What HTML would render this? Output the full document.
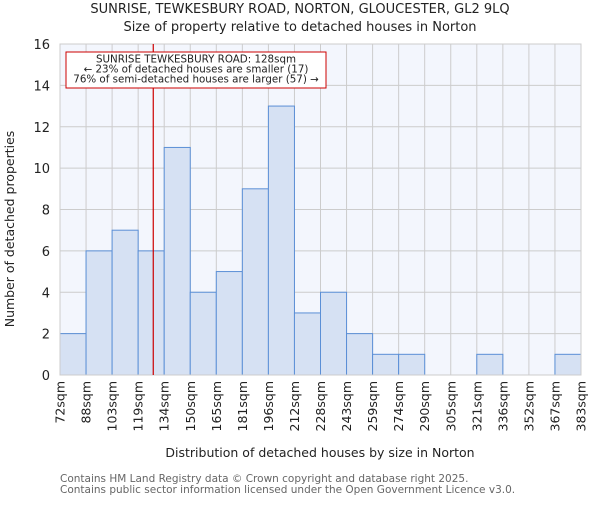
<!DOCTYPE html>
<html><head><meta charset="utf-8"><style>
body{margin:0;background:#fff;}
svg text{font-family:"DejaVu Sans","Liberation Sans",sans-serif;}
</style></head><body>
<svg id="chart" width="600" height="500" xmlns="http://www.w3.org/2000/svg">
<text x="300" y="13" text-anchor="middle" font-size="13" fill="#222">SUNRISE, TEWKESBURY ROAD, NORTON, GLOUCESTER, GL2 9LQ</text>
<text x="300" y="31" text-anchor="middle" font-size="13" fill="#222">Size of property relative to detached houses in Norton</text>
<rect x="60" y="44" width="521" height="331" fill="#f3f6fd"/>
<g id="grid"></g>
<g id="bars"></g>
<g id="xticks"></g>
<g id="yticks"></g>
<rect x="60" y="44" width="521" height="331" fill="none" stroke="#ccc"/>
<line id="marker" y1="44" y2="375" stroke="#cc0000" stroke-width="1.2"/>
<g>
<rect x="66" y="52" width="260" height="36" fill="#fff" stroke="#cc0000" stroke-width="1"/>
<text x="196" y="62.5" text-anchor="middle" font-size="10.3" fill="#222">SUNRISE TEWKESBURY ROAD: 128sqm</text>
<text x="196" y="72.5" text-anchor="middle" font-size="10.3" fill="#222">← 23% of detached houses are smaller (17)</text>
<text x="196" y="82.5" text-anchor="middle" font-size="10.3" fill="#222">76% of semi-detached houses are larger (57) →</text>
</g>
<text transform="translate(14,229) rotate(-90)" text-anchor="middle" font-size="12.5" fill="#222">Number of detached properties</text>
<text x="320" y="457" text-anchor="middle" font-size="12.5" fill="#222">Distribution of detached houses by size in Norton</text>
<text x="60" y="482" font-size="10.5" fill="#666">Contains HM Land Registry data © Crown copyright and database right 2025.</text>
<text x="60" y="493" font-size="10.5" fill="#666">Contains public sector information licensed under the Open Government Licence v3.0.</text>
</svg>
<script>
const binLabels=["72sqm","88sqm","103sqm","119sqm","134sqm","150sqm","165sqm","181sqm","196sqm","212sqm","228sqm","243sqm","259sqm","274sqm","290sqm","305sqm","321sqm","336sqm","352sqm","367sqm","383sqm"];
const counts=[2,6,7,6,11,4,5,9,13,3,4,2,1,1,0,0,1,0,0,1];
const yTicks=[0,2,4,6,8,10,12,14,16];
const markerBin=3.58;
const NS="http://www.w3.org/2000/svg";
const X0=60,X1=581,Y0=375,Y1=44,YMAX=16;
const bw=(X1-X0)/counts.length;
const xs=i=>X0+i*bw;
const ys=v=>Y0-(v/YMAX)*(Y0-Y1);
function mk(t,a,p){const e=document.createElementNS(NS,t);for(const k in a)e.setAttribute(k,a[k]);p.appendChild(e);return e;}
const grid=document.getElementById('grid'),bars=document.getElementById('bars'),xt=document.getElementById('xticks'),yt=document.getElementById('yticks');
yTicks.forEach(v=>{
 const l=mk('line',{x1:X0,x2:X1,y1:ys(v),y2:ys(v),stroke:'#ccc'},grid);
 
 
 const t=mk('text',{x:50,y:ys(v)+5,'text-anchor':'end','font-size':13,fill:'#222'},yt);
 t.textContent=v;
 
 
});
binLabels.forEach((s,i)=>{
 const l=mk('line',{x1:xs(i),x2:xs(i),y1:Y1,y2:Y0,stroke:'#ccc'},grid);
 
 
 const t=mk('text',{transform:`translate(${xs(i)+4.5},381) rotate(-90)`,'text-anchor':'end','font-size':12.5,fill:'#222'},xt);
 t.textContent=s;
 
 
});
counts.forEach((c,i)=>{
 if(c<=0)return;
 const r=mk('rect',{x:xs(i),y:ys(c),width:bw,height:Y0-ys(c),fill:'#d6e1f3',stroke:'#5b8fd6','stroke-width':1},bars);
 
 
});
const m=document.getElementById('marker');m.setAttribute('x1',xs(markerBin));m.setAttribute('x2',xs(markerBin));
</script>
</body></html>
